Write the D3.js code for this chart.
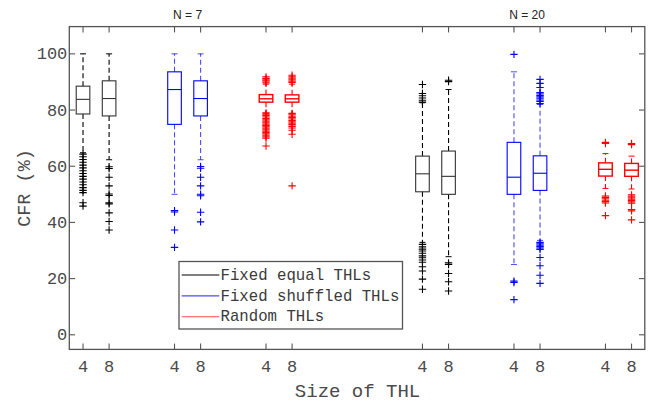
<!DOCTYPE html>
<html>
<head>
<meta charset="utf-8">
<script src="https://cdn.jsdelivr.net/npm/d3@7"></script>
<style>
  html, body { margin: 0; padding: 0; background: #fff; }
  svg { display: block; }
  .mono { font-family: 'Courier New', 'Liberation Mono', monospace; }
</style>
</head>
<body>
<svg id="chart" width="649" height="405"></svg>
<script>
// ---- data -------------------------------------------------------------
const populations = ["N = 7", "N = 20"];
const schemes = ["Fixed equal THLs", "Fixed shuffled THLs", "Random THLs"];
const sizes = ["4", "8"];
const yTicks = [0, 20, 40, 60, 80, 100];

// box statistics: [lower whisker, q1, median, q3, upper whisker]
// order: population -> scheme -> THL size
const statsN7 = [
  [64.8, 78.6, 83.8, 88.5, 100],
  [62.3, 77.9, 84.1, 90.4, 100],
  [50.0, 74.9, 87.3, 93.6, 100],
  [62.3, 77.9, 84.1, 90.4, 100],
  [78.8, 82.8, 84.0, 85.5, 89.2],
  [78.8, 82.8, 84.0, 85.4, 89.2]
];
const statsN20 = [
  [32.9, 50.9, 57.3, 63.6, 82.6],
  [27.8, 50.0, 56.4, 65.4, 87.3],
  [25.0, 50.0, 56.1, 68.5, 93.6],
  [33.6, 51.4, 57.5, 63.7, 82.0],
  [52.1, 56.5, 58.9, 61.2, 64.5],
  [51.9, 56.4, 58.6, 61.0, 63.6]
];

const outliersN7 = [
  [64.3, 63.4, 62.4, 61.4, 60.4, 59.4, 58.4, 57.4, 56.4, 55.4, 54.4, 53.4, 52.4, 51.4, 50.6, 47.0, 45.8],
  [59.8, 59.2, 56.1, 53.0, 50.1, 49.6, 47.0, 46.6, 43.4, 40.3, 37.3],
  [44.2, 43.7, 37.3, 31.1],
  [59.9, 59.3, 56.1, 53.0, 50.0, 49.5, 43.6, 40.2],
  [91.8, 91.2, 90.8, 90.4, 90.0, 89.6,
   79.0, 78.5, 78.0, 77.5, 77.0, 76.5, 76.0, 75.5, 75.0, 74.5, 74.0, 73.5, 73.0, 72.5, 72.0, 71.5, 71.0, 70.5, 70.0, 67.2],
  [92.4, 91.8, 91.3, 90.8, 90.3, 89.8,
   78.8, 78.3, 77.8, 77.3, 76.8, 76.3, 75.8, 75.3, 74.8, 74.2, 73.6, 72.8, 71.4, 53.0]
];
const outliersN20 = [
  [89.1, 85.9, 85.1, 84.3, 83.5, 82.8,
   32.2, 31.3, 30.5, 29.8, 29.0, 28.1, 27.4, 26.6, 25.8, 24.2, 22.7, 19.8, 16.2],
  [90.6, 90.1, 25.6, 25.0, 21.8, 18.9, 15.6],
  [99.8, 19.1, 18.6, 12.5],
  [90.9, 89.5, 88.0, 86.2, 85.7, 85.2, 84.7, 84.2, 83.6, 83.1, 82.3,
   32.9, 32.4, 31.9, 31.4, 30.9, 30.4, 27.5, 24.6, 21.2, 18.3],
  [68.5, 68.1, 49.4, 48.9, 48.4, 47.9, 47.4, 46.9, 42.4],
  [68.1, 67.7, 49.8, 49.3, 48.8, 48.3, 47.8, 47.3, 46.8, 44.6, 44.1, 40.9]
];

const schemeColors = ["#000000", "#0000ff", "#ff0000"];

// ---- layout -----------------------------------------------------------
const margin = { left: 69.3, right: 4.2, top: 26.6, bottom: 55.6 };
const W = 649, H = 405;
const plotR = W - margin.right, plotB = H - margin.bottom;

// slot position in axis units: populations are separated by a wider gap
const popStep = 3.71, schemeStep = 1, sizeStep = 0.285;
const slot = (p, s, k) => 1 + p * popStep + s * schemeStep + k * sizeStep;

const x = d3.scaleLinear().domain([0.85, 7.14]).range([margin.left, plotR]);
const y = d3.scaleLinear().domain([-5.2, 109.7]).range([plotB, margin.top]);

const boxes = [];
[statsN7, statsN20].forEach((stats, p) => {
  const outs = p === 0 ? outliersN7 : outliersN20;
  stats.forEach((st, i) => {
    const s = Math.floor(i / 2), k = i % 2;
    boxes.push({ pos: slot(p, s, k), stats: st, outliers: outs[i], scheme: s, size: sizes[k] });
  });
});

const svg = d3.select("#chart");
const axisColor = "#555";
const textColor = "#4a4a4a";

// ---- boxes ------------------------------------------------------------
const boxHalf = 6.8, capHalf = 3;
const g = svg.append("g");
boxes.forEach(b => {
  const c = schemeColors[b.scheme];
  const cx = x(b.pos);
  const [lo, q1, med, q3, hi] = b.stats;
  const whiskerOpacity = b.scheme === 1 ? 0.7 : 1;
  const bg = g.append("g");
  // dashed whiskers
  bg.append("line").attr("x1", cx).attr("x2", cx).attr("y1", y(q3)).attr("y2", y(hi))
    .attr("stroke", c).attr("stroke-width", 1.1).attr("stroke-dasharray", "5,3").attr("opacity", whiskerOpacity);
  bg.append("line").attr("x1", cx).attr("x2", cx).attr("y1", y(q1)).attr("y2", y(lo))
    .attr("stroke", c).attr("stroke-width", 1.1).attr("stroke-dasharray", "5,3").attr("opacity", whiskerOpacity);
  // whisker caps
  [lo, hi].forEach(v => {
    bg.append("line").attr("x1", cx - capHalf).attr("x2", cx + capHalf).attr("y1", y(v)).attr("y2", y(v))
      .attr("stroke", c).attr("stroke-width", 1).attr("opacity", whiskerOpacity);
  });
  // box + median
  bg.append("rect").attr("x", cx - boxHalf).attr("y", y(q3)).attr("width", boxHalf * 2)
    .attr("height", y(q1) - y(q3)).attr("fill", "none")
    .attr("stroke", b.scheme === 0 ? "#333" : c).attr("stroke-width", b.scheme === 2 ? 1.4 : 1.1);
  bg.append("line").attr("x1", cx - boxHalf).attr("x2", cx + boxHalf).attr("y1", y(med)).attr("y2", y(med))
    .attr("stroke", b.scheme === 0 ? "#333" : c).attr("stroke-width", b.scheme === 2 ? 1.4 : 1.1);
  // outliers as plus markers
  const arm = 3.7;
  bg.selectAll("path.out").data(b.outliers).join("path").attr("class", "out")
    .attr("d", v => `M${cx - arm},${y(v)}H${cx + arm}M${cx},${y(v) - arm}V${y(v) + arm}`)
    .attr("stroke", c).attr("stroke-width", 1.1).attr("fill", "none");
});

// ---- axes (boxed, inward ticks) --------------------------------------
const tickLen = 5.8;
const allPos = boxes.map(b => b.pos);

const frame = svg.append("g");
frame.append("rect").attr("x", margin.left).attr("y", margin.top)
  .attr("width", plotR - margin.left).attr("height", plotB - margin.top)
  .attr("fill", "none").attr("stroke", axisColor).attr("stroke-width", 1.3);

// left and right y ticks
yTicks.forEach(v => {
  frame.append("line").attr("x1", margin.left).attr("x2", margin.left + tickLen)
    .attr("y1", y(v)).attr("y2", y(v)).attr("stroke", axisColor).attr("stroke-width", 1.1);
  frame.append("line").attr("x1", plotR).attr("x2", plotR - tickLen)
    .attr("y1", y(v)).attr("y2", y(v)).attr("stroke", axisColor).attr("stroke-width", 1.1);
});
// bottom and top x ticks
allPos.forEach(p => {
  frame.append("line").attr("x1", x(p)).attr("x2", x(p))
    .attr("y1", plotB).attr("y2", plotB - tickLen).attr("stroke", axisColor).attr("stroke-width", 1.1);
  frame.append("line").attr("x1", x(p)).attr("x2", x(p))
    .attr("y1", margin.top).attr("y2", margin.top + tickLen).attr("stroke", axisColor).attr("stroke-width", 1.1);
});

// tick labels
svg.append("g").selectAll("text").data(yTicks).join("text")
  .attr("class", "mono").attr("x", margin.left - 2).attr("y", v => y(v) + 5.5)
  .attr("text-anchor", "end").attr("font-size", 17).attr("fill", textColor)
  .text(v => v);

svg.append("g").selectAll("text").data(boxes).join("text")
  .attr("class", "mono").attr("x", b => x(b.pos)).attr("y", 371.5)
  .attr("text-anchor", "middle").attr("font-size", 17).attr("fill", textColor)
  .text(b => b.size);

// axis titles
svg.append("text").attr("class", "mono")
  .attr("x", (margin.left + plotR) / 2 + 0.5).attr("y", 397.3)
  .attr("text-anchor", "middle").attr("font-size", 19).attr("fill", textColor)
  .text("Size of THL");

svg.append("text").attr("class", "mono")
  .attr("transform", `translate(29.5,${(margin.top + plotB) / 2}) rotate(-90)`)
  .attr("text-anchor", "middle").attr("font-size", 18.5).attr("fill", textColor)
  .text("CFR (%)");

// population headers
populations.forEach((name, p) => {
  const cx = (x(slot(p, 0, 0)) + x(slot(p, 2, 1))) / 2;
  svg.append("text").attr("x", cx).attr("y", 18.7)
    .attr("text-anchor", "middle").attr("font-family", "'Liberation Sans', Arial, Helvetica, sans-serif")
    .attr("font-size", 12).attr("fill", "#222").text(name);
});

// ---- legend -----------------------------------------------------------
const leg = svg.append("g");
leg.append("rect").attr("x", 179).attr("y", 261.5).attr("width", 223.5).attr("height", 67.5)
  .attr("fill", "#fff").attr("stroke", "#555").attr("stroke-width", 1.3);
schemes.forEach((name, i) => {
  const ly = 275 + i * 20.9;
  leg.append("line").attr("x1", 181.7).attr("x2", 219.3).attr("y1", ly).attr("y2", ly)
    .attr("stroke", schemeColors[i]).attr("stroke-width", 1.1).attr("opacity", i === 0 ? 1 : 0.7);
  leg.append("text").attr("class", "mono").attr("x", 220.5).attr("y", ly + 4.6)
    .attr("font-size", 15.7).attr("fill", "#3a3a3a").text(name);
});
</script>
</body>
</html>
